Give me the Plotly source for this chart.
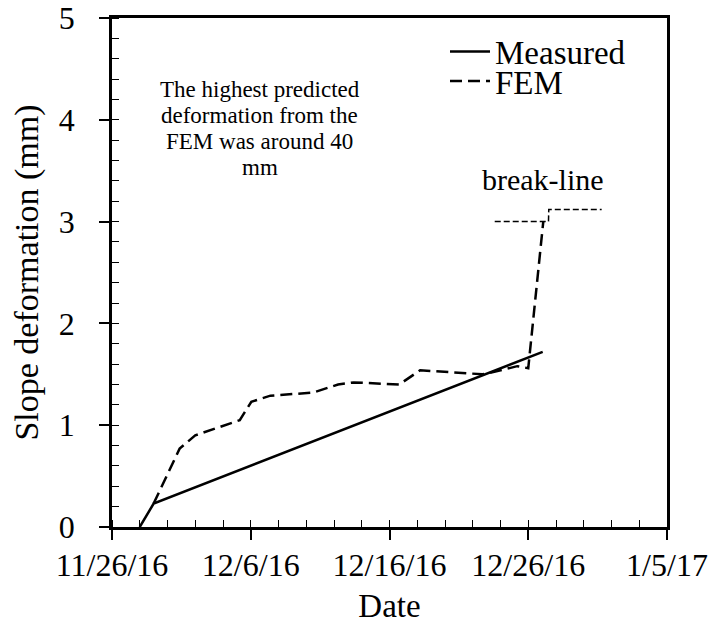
import plotly.graph_objects as go

# ---- data ----
measured_dates = ["2016-11-28", "2016-11-29", "2016-12-27 01:00"]
measured_vals = [0.0, 0.23, 1.72]

fem_dates = ["2016-11-29", "2016-11-30 21:00", "2016-12-02", "2016-12-03 02:00",
             "2016-12-05 05:00", "2016-12-06 01:00", "2016-12-07 10:00",
             "2016-12-10 12:00", "2016-12-12 07:00", "2016-12-13 10:00",
             "2016-12-16 17:00", "2016-12-18 05:00", "2016-12-22 17:00",
             "2016-12-23 17:00", "2016-12-25 05:00", "2016-12-26",
             "2016-12-27 02:00"]
fem_vals = [0.23, 0.77, 0.90, 0.95, 1.05, 1.23, 1.29, 1.32, 1.40, 1.42,
            1.40, 1.54, 1.50, 1.53, 1.58, 1.56, 3.00]

break_dates = ["2016-12-23 14:00", "2016-12-27 02:00", "2016-12-27 11:00",
               "2016-12-27 11:30", "2016-12-31 07:00"]
break_vals = [3.00, 3.00, 3.00, 3.12, 3.12]

x_range = ["2016-11-26", "2017-01-05"]
y_range = [0, 5]
note_lines = ["The highest predicted", "deformation from the",
              "FEM was around 40", "mm"]

FONT = "Liberation Serif"
DAY = 86400000

fig = go.Figure()
fig.add_trace(go.Scatter(x=measured_dates, y=measured_vals, mode="lines",
                         name="Measured", line=dict(color="black", width=2.5),
                         legend="legend"))
fig.add_trace(go.Scatter(x=fem_dates, y=fem_vals, mode="lines", name="FEM",
                         line=dict(color="black", width=2.5, dash="12px,6px"),
                         legend="legend2"))
fig.add_trace(go.Scatter(x=break_dates, y=break_vals, mode="lines",
                         showlegend=False,
                         line=dict(color="black", width=1.5, dash="6px,3px")))

note_y = [4.30, 4.045, 3.79, 3.535]
for t, yy in zip(note_lines, note_y):
    fig.add_annotation(x="2016-12-06 15:30", y=yy, text=t, showarrow=False,
                       xanchor="center", yanchor="middle",
                       font=dict(family=FONT, size=23, color="black"))
fig.add_annotation(x="2016-12-27 01:00", y=3.41, text="break-line",
                   showarrow=False, xanchor="center", yanchor="middle",
                   font=dict(family=FONT, size=30, color="black"))

axis_common = dict(showgrid=False, zeroline=False, automargin=False)
fig.update_layout(
    width=712, height=624,
    margin=dict(l=112, r=45, t=18, b=97),
    paper_bgcolor="white", plot_bgcolor="white",
    font=dict(family=FONT, color="black"),
    xaxis=dict(type="date", range=x_range, tick0="2016-11-26", dtick=10 * DAY,
               tickformat="%-m/%-d/%y", ticks="outside", ticklen=10,
               tickwidth=1.5, tickcolor="black",
               showline=True, linecolor="black", linewidth=2.5, mirror=True,
               tickfont=dict(family=FONT, size=32, color="black"),
               ticklabelstandoff=-2,
               title=dict(text="Date", font=dict(family=FONT, size=33), standoff=17),
               minor=dict(dtick=2 * DAY, tick0="2016-11-26", ticks="inside",
                          ticklen=7, tickwidth=1.2, tickcolor="black"),
               **axis_common),
    yaxis=dict(range=y_range, dtick=1, ticks="outside", ticklen=10,
               tickwidth=1.5, tickcolor="black",
               showline=True, linecolor="black", linewidth=2.5, mirror=True,
               tickfont=dict(family=FONT, size=32, color="black"),
               ticklabelstandoff=18,
               title=dict(text="Slope deformation (mm)",
                          font=dict(family=FONT, size=34), standoff=10),
               minor=dict(dtick=0.2, ticks="inside", ticklen=7,
                          tickwidth=1.2, tickcolor="black"),
               **axis_common),
    xaxis2=dict(type="date", overlaying="x", anchor="y", side="bottom",
                range=x_range, tick0="2016-11-26", dtick=10 * DAY,
                ticks="inside", ticklen=9, tickwidth=1.5, tickcolor="black",
                showticklabels=False, showline=False, **axis_common),
    yaxis2=dict(overlaying="y", anchor="x", side="left", range=y_range,
                dtick=1, ticks="inside", ticklen=9, tickwidth=1.5,
                tickcolor="black", showticklabels=False, showline=False,
                **axis_common),
    legend=dict(x=0.6, y=0.934, xanchor="left", yanchor="middle",
                bgcolor="rgba(0,0,0,0)", itemwidth=40,
                font=dict(family=FONT, size=33, color="black")),
    legend2=dict(x=0.6, y=0.876, xanchor="left", yanchor="middle",
                 bgcolor="rgba(0,0,0,0)", itemwidth=40,
                 font=dict(family=FONT, size=33, color="black")),
)

fig.write_html("out.html")
